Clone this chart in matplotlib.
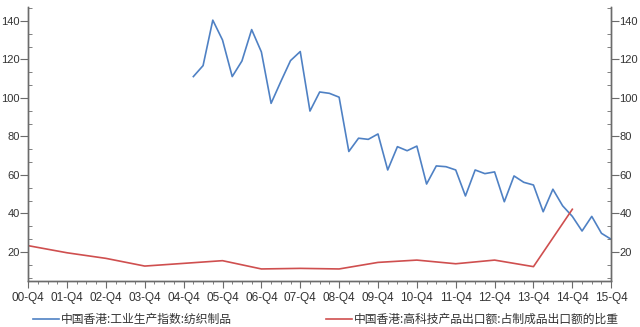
import matplotlib
matplotlib.use("Agg")
import matplotlib.pyplot as plt
from matplotlib.ticker import MultipleLocator, FixedLocator
from matplotlib.lines import Line2D

plt.rcParams['font.family'] = ['Liberation Sans', 'Noto Sans CJK SC']

# quarter labels on the x axis (every Q4)
year_labels = ["00-Q4", "01-Q4", "02-Q4", "03-Q4", "04-Q4", "05-Q4", "06-Q4", "07-Q4",
               "08-Q4", "09-Q4", "10-Q4", "11-Q4", "12-Q4", "13-Q4", "14-Q4", "15-Q4"]

# textile production index, quarterly 05-Q1 .. 15-Q4
textile_quarters = list(range(17, 61))
textile_index = [111.1, 116.8, 140.4, 130.1,
                 111.1, 119.2, 135.5, 123.9,
                 97.2, 108.5, 119.4, 124.1,
                 93.2, 103.1, 102.4, 100.4,
                 72.2, 79.1, 78.5, 81.3,
                 62.6, 74.7, 72.6, 75.0,
                 55.3, 64.7, 64.3, 62.6,
                 49.1, 62.6, 60.7, 61.6,
                 46.1, 59.5, 56.2, 54.8,
                 40.9, 52.6, 44.0, 38.5,
                 30.9, 38.5, 29.7, 26.6]

# high-tech share of manufactured exports, yearly at Q4 00 .. 14
hitech_quarters = list(range(0, 57, 4))
hitech_share = [23.3, 19.6, 16.7, 12.7, 14.1, 15.5, 11.2, 11.5,
                11.2, 14.6, 15.8, 13.9, 15.8, 12.4, 42.2]

blue = '#4f81c4'
red = '#cf4f4f'
axis_grey = '#6b6b6b'
text_col = '#333333'

fig = plt.figure(figsize=(6.4, 3.27), dpi=100)
ax = fig.add_axes([0.044, 0.141, 0.911, 0.838])
ax.plot(textile_quarters, textile_index, color=blue, lw=1.2)
ax.plot(hitech_quarters, hitech_share, color=red, lw=1.2)

ax.set_xlim(0, 60)
ax.set_ylim(5, 147.3)

ax2 = ax.twinx()
ax2.set_ylim(ax.get_ylim())

for a in (ax, ax2):
    a.yaxis.set_major_locator(FixedLocator([20, 40, 60, 80, 100, 120, 140]))
    a.yaxis.set_minor_locator(MultipleLocator(20 / 3))
    for s in a.spines.values():
        s.set_color(axis_grey)
        s.set_linewidth(1.0)
    a.spines['top'].set_visible(False)
    a.tick_params(axis='y', which='major', direction='out', length=5.5,
                  color=axis_grey, labelcolor=text_col, labelsize=8, pad=0.5)
    a.tick_params(axis='y', which='minor', direction='in', length=3, color=axis_grey)

ax.set_xticks(range(0, 61, 4))
ax.set_xticklabels(year_labels)
ax.xaxis.set_minor_locator(MultipleLocator(1))
ax.tick_params(axis='x', which='major', direction='out', length=5,
               color=axis_grey, labelcolor=text_col, labelsize=8.5, pad=3)
ax.tick_params(axis='x', which='minor', direction='out', length=2.5, color=axis_grey)

handles = [Line2D([], [], color=blue, lw=1.2), Line2D([], [], color=red, lw=1.2)]
names = ["中国香港:工业生产指数:纺织制品", "中国香港:高科技产品出口额:占制成品出口额的比重"]
leg = fig.legend(handles, names, loc='lower left', bbox_to_anchor=(0.035, -0.03),
                 ncol=2, frameon=False, handlelength=2.2, handletextpad=0.2,
                 columnspacing=7.9, prop={'family': ['Noto Sans CJK SC', 'DejaVu Sans'], 'size': 8.5})
for t in leg.get_texts():
    t.set_color(text_col)

fig.savefig("out.png", dpi=100)
